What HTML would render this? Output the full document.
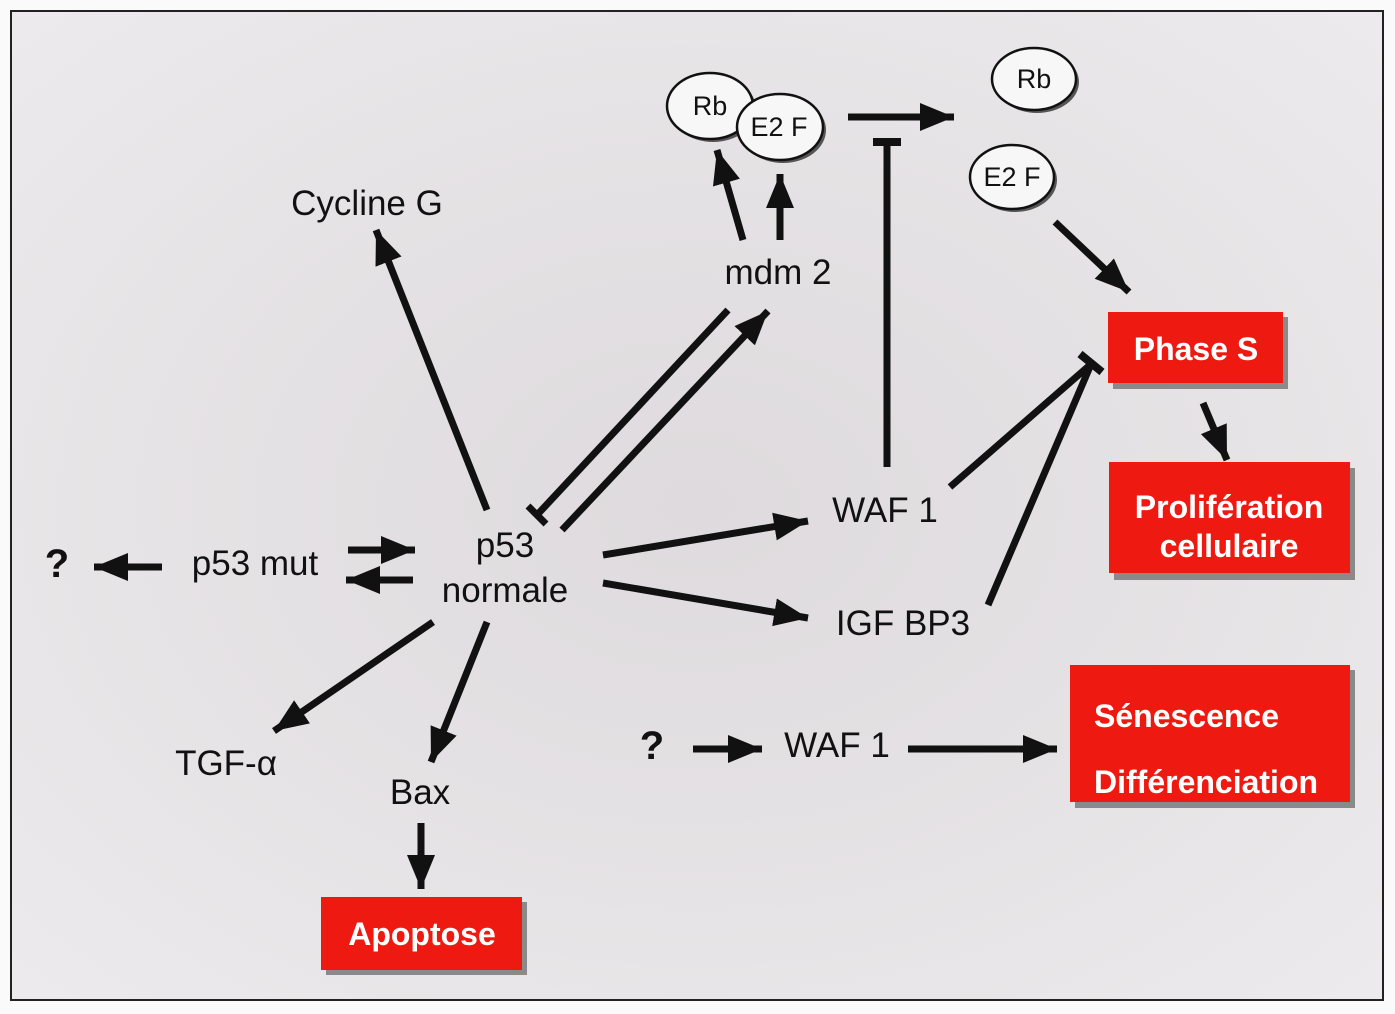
<!DOCTYPE html>
<html><head><meta charset="utf-8"><style>
html,body{margin:0;padding:0;background:#fafafa;}
svg{display:block;}
text{font-family:"Liberation Sans",sans-serif;}
</style></head><body>
<svg width="1395" height="1014" viewBox="0 0 1395 1014" xmlns="http://www.w3.org/2000/svg">
<defs>
<radialGradient id="bg" cx="50%" cy="50%" r="70%">
<stop offset="0" stop-color="#dedadd"/><stop offset="1" stop-color="#eceaec"/>
</radialGradient>
<marker id="a" markerUnits="userSpaceOnUse" markerWidth="40" markerHeight="34" refX="34" refY="17" orient="auto">
<path d="M0,3 L34,17 L0,31 Z" fill="#111"/>
</marker>
</defs>
<rect x="0" y="0" width="1395" height="1014" fill="#fafafa"/>
<rect x="11" y="11" width="1372" height="989" fill="url(#bg)" stroke="#222" stroke-width="2"/>

<g stroke="#111" stroke-width="7" fill="none">
<line x1="487" y1="510" x2="376" y2="230" marker-end="url(#a)"/>
<line x1="562" y1="530" x2="768" y2="311" marker-end="url(#a)"/>
<line x1="728" y1="310" x2="537" y2="515"/>
<line x1="528" y1="506" x2="546" y2="524"/>
<line x1="743" y1="240" x2="717" y2="150" marker-end="url(#a)"/>
<line x1="780" y1="240" x2="780" y2="174" marker-end="url(#a)"/>
<line x1="848" y1="117" x2="954" y2="117" marker-end="url(#a)"/>
<line x1="887" y1="467" x2="887" y2="142"/>
<line x1="873" y1="142" x2="901" y2="142" stroke-width="8"/>
<line x1="1055" y1="222" x2="1129" y2="292" marker-end="url(#a)"/>
<line x1="950" y1="487" x2="1090" y2="365"/>
<line x1="988" y1="605" x2="1092" y2="362"/>
<line x1="1080" y1="354" x2="1102" y2="372" stroke-width="8"/>
<line x1="1203" y1="403" x2="1227" y2="460" marker-end="url(#a)"/>
<line x1="603" y1="555" x2="808" y2="521" marker-end="url(#a)"/>
<line x1="603" y1="583" x2="808" y2="618" marker-end="url(#a)"/>
<line x1="348" y1="550" x2="415" y2="550" marker-end="url(#a)"/>
<line x1="413" y1="580" x2="346" y2="580" marker-end="url(#a)"/>
<line x1="162" y1="567" x2="94" y2="567" marker-end="url(#a)"/>
<line x1="433" y1="622" x2="274" y2="731" marker-end="url(#a)"/>
<line x1="487" y1="622" x2="431" y2="762" marker-end="url(#a)"/>
<line x1="421" y1="823" x2="421" y2="889" marker-end="url(#a)"/>
<line x1="693" y1="749" x2="762" y2="749" marker-end="url(#a)"/>
<line x1="908" y1="749" x2="1057" y2="749" marker-end="url(#a)"/>
</g>

<g fill="#555">
<ellipse cx="713" cy="109" rx="43" ry="33"/>
<ellipse cx="783" cy="130" rx="43" ry="33"/>
<ellipse cx="1037" cy="82" rx="42" ry="31"/>
<ellipse cx="1015" cy="180" rx="42" ry="32"/>
</g>
<g stroke="#111" stroke-width="2.5" fill="#f7f7f7">
<ellipse cx="710" cy="106" rx="43" ry="33"/>
<ellipse cx="780" cy="127" rx="43" ry="33"/>
<ellipse cx="1034" cy="79" rx="42" ry="31"/>
<ellipse cx="1012" cy="177" rx="42" ry="32"/>
</g>
<g font-size="27" fill="#111" text-anchor="middle">
<text x="710" y="115">Rb</text>
<text x="779" y="136">E2 F</text>
<text x="1034" y="88">Rb</text>
<text x="1012" y="186">E2 F</text>
</g>

<g font-size="35" fill="#111" text-anchor="middle">
<text x="367" y="215">Cycline G</text>
<text x="778" y="284">mdm 2</text>
<text x="505" y="557">p53</text>
<text x="505" y="602">normale</text>
<text x="255" y="575">p53 mut</text>
<text x="885" y="522">WAF 1</text>
<text x="903" y="635">IGF BP3</text>
<text x="226" y="775">TGF-α</text>
<text x="420" y="804">Bax</text>
<text x="837" y="757">WAF 1</text>
<text x="57" y="577" font-weight="bold" font-size="40">?</text>
<text x="652" y="759" font-weight="bold" font-size="40">?</text>
</g>

<g fill="#8a8a8a">
<rect x="326" y="902" width="201" height="73"/>
<rect x="1113" y="317" width="175" height="72"/>
<rect x="1114" y="468" width="241" height="112"/>
<rect x="1075" y="670" width="280" height="138"/>
</g>
<g fill="#ee1a12">
<rect x="321" y="897" width="201" height="73"/>
<rect x="1108" y="312" width="175" height="71"/>
<rect x="1109" y="462" width="241" height="111"/>
<rect x="1070" y="665" width="280" height="137"/>
</g>
<g fill="#fff" font-weight="bold" font-size="32">
<text x="422" y="945" text-anchor="middle">Apoptose</text>
<text x="1196" y="360" text-anchor="middle">Phase S</text>
<text x="1229" y="518" text-anchor="middle">Prolifération</text>
<text x="1229" y="557" text-anchor="middle">cellulaire</text>
<text x="1094" y="727">Sénescence</text>
<text x="1094" y="793">Différenciation</text>
</g>
</svg>
</body></html>
